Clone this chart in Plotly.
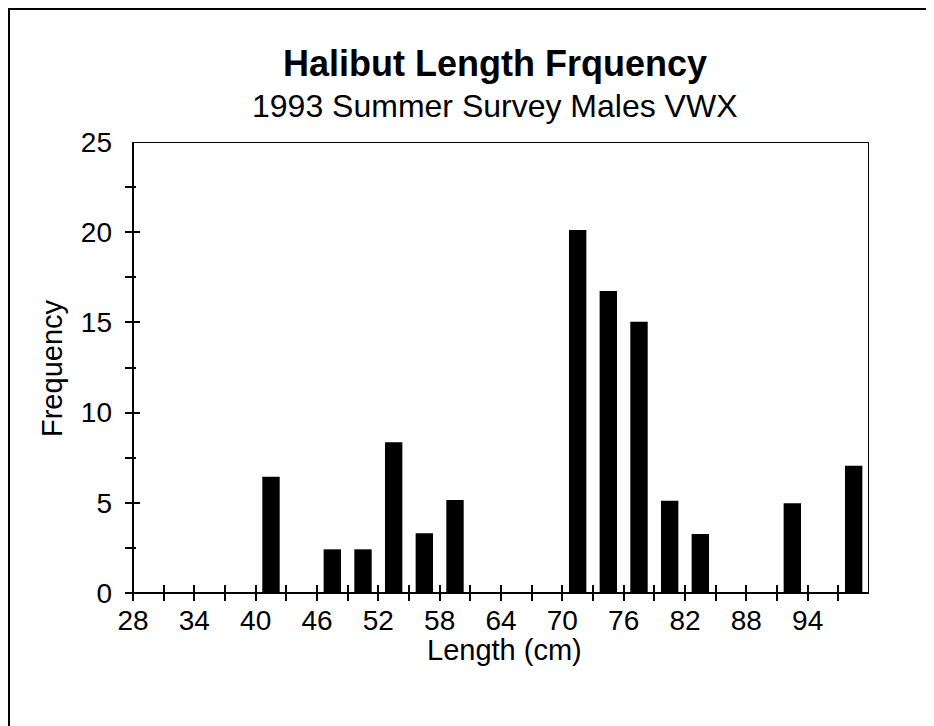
import plotly.graph_objects as go

# bin lower edges (cm) and frequency for each 3 cm length class
length_bins = [40, 46, 49, 52, 55, 58, 70, 73, 76, 79, 82, 91, 97]
frequency = [6.45, 2.42, 2.42, 8.35, 3.31, 5.16, 20.12, 16.74, 15.04, 5.12, 3.27, 4.97, 7.06]

x_ticks = list(range(28, 101, 3)) + [100]
x_labels = [str(v) if v < 100 and (v - 28) % 6 == 0 else "" for v in x_ticks]
y_ticks = [0, 5, 10, 15, 20, 25]
y_minor = [2.5, 7.5, 12.5, 17.5, 22.5]

# the page body has an 8px margin, so lay out in page pixels and shift
OFF = 8
W, H = 934 - OFF, 726 - OFF
ax_l, ax_r, ax_t, ax_b = 133, 869, 142, 593   # axis box on the page
cross = 8                                       # half length of crossing ticks
pl, pr, pt, pb = ax_l - cross, ax_r, ax_t, ax_b + cross  # plot area on the page

x_per = (ax_r - ax_l) / (100 - 28)
y_per = (ax_b - ax_t) / 25
x_range = [28 - cross / x_per, 100]
y_range = [-cross / y_per, 25]
pw, ph = pr - pl, pb - pt


def py(page_y):
    # page y pixel -> paper y
    return (pb - page_y) / ph


def px(page_x):
    return (page_x - pl) / pw


font = "Liberation Sans, Arial, Helvetica, sans-serif"

fig = go.Figure()
fig.add_trace(go.Bar(
    x=length_bins, y=frequency,
    width=1.7, offset=0.65,
    marker=dict(color="black", line=dict(width=0)),
    showlegend=False, hoverinfo="x+y"
))

fig.update_layout(
    width=W, height=H,
    margin=dict(l=pl - OFF, r=W - (pr - OFF), t=pt - OFF, b=H - (pb - OFF)),
    plot_bgcolor="white", paper_bgcolor="white",
    font=dict(family=font, size=28, color="black"),
    xaxis=dict(range=x_range, tickmode="array", tickvals=x_ticks, ticktext=x_labels,
               ticks="inside", ticklen=2 * cross, tickwidth=2, tickcolor="black",
               showline=False, showgrid=False, zeroline=False, ticklabelstandoff=0),
    yaxis=dict(range=y_range, tickmode="array", tickvals=y_ticks,
               ticks="inside", ticklen=2 * cross - 1, tickwidth=2, tickcolor="black",
               minor=dict(tickvals=y_minor, ticks="inside", ticklen=11,
                          tickwidth=2, tickcolor="black"),
               showline=False, showgrid=False, zeroline=False, ticklabelstandoff=12),
    annotations=[
        dict(text="<b>Halibut Length Frquency</b>", x=px(495), y=py(64),
             xref="paper", yref="paper", showarrow=False, xanchor="center", yanchor="middle",
             font=dict(size=36)),
        dict(text="1993 Summer Survey Males VWX", x=px(495), y=py(106),
             xref="paper", yref="paper", showarrow=False, xanchor="center", yanchor="middle",
             font=dict(size=32)),
        dict(text="Length (cm)", x=px(504), y=py(650),
             xref="paper", yref="paper", showarrow=False, xanchor="center", yanchor="middle",
             font=dict(size=29)),
        dict(text="Frequency", x=px(52), y=py(368), textangle=-90,
             xref="paper", yref="paper", showarrow=False, xanchor="center", yanchor="middle",
             font=dict(size=29)),
    ],
)

# axis box: left and bottom are the axis lines, top and right the mirror frame
fig.add_shape(type="rect", xref="x", yref="y", x0=28, x1=100, y0=0, y1=25,
              line=dict(color="black", width=2), fillcolor="rgba(0,0,0,0)", layer="above")

# outer frame of the page (left, top and right edges; bottom runs off the page)
fl, fr, ft, fb = px(9), px(932), py(9), py(740)
fig.add_shape(type="path", xref="paper", yref="paper",
              path=f"M {fl} {fb} L {fl} {ft} L {fr} {ft} L {fr} {fb}",
              line=dict(color="black", width=2), layer="below")

fig.write_html("out.html")
